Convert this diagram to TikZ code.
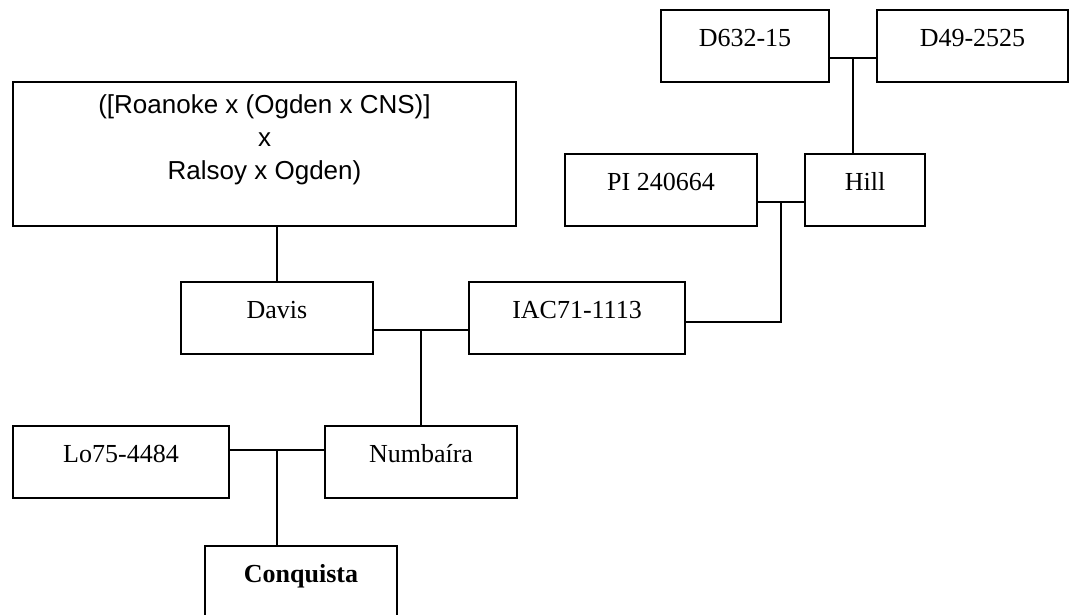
\documentclass[tikz,border=0pt]{standalone}
\usepackage{fontspec}
\setmainfont{Liberation Serif}
\newfontfamily\arialfont{Liberation Sans}
\begin{document}
\begin{tikzpicture}[x=1pt,y=-1pt,line width=1.8pt,
  famnode/.style={draw=black, rectangle, inner xsep=0pt, inner ysep=0pt, outer sep=0pt,
    minimum height=72pt, text height=36.5pt, text depth=35.5pt, anchor=north west,
    font=\fontsize{26}{30}\selectfont},
  bigbox/.style={draw=black, rectangle, inner sep=0pt, outer sep=0pt, anchor=north west},
  bigtext/.style={anchor=north, inner sep=0pt, align=center, font=\arialfont\fontsize{26}{33}\selectfont},
  link/.style={draw=black, line width=1.8pt}]
\clip (0,0) rectangle (1071,615);
\fill[white] (0,0) rectangle (1071,615);

\node[famnode, minimum width=168pt] (d632) at (661,10) {D632-15};
\node[famnode, minimum width=191pt] (d49) at (877,10) {D49-2525};
\node[bigbox, minimum width=503pt, minimum height=144pt] (big) at (13,82) {};
\node[bigtext] (bigtxt) at (264.5,94) {([Roanoke x (Ogden x CNS)]\\x\\Ralsoy x Ogden)};
\node[famnode, minimum width=192pt] (pi) at (565,154) {PI 240664};
\node[famnode, minimum width=120pt] (hill) at (805,154) {Hill};
\node[famnode, minimum width=192pt] (davis) at (181,282) {Davis};
\node[famnode, minimum width=216pt] (iac) at (469,282) {IAC71-1113};
\node[famnode, minimum width=216pt] (lo) at (13,426) {Lo75-4484};
\node[famnode, minimum width=192pt] (numb) at (325,426) {Numbaíra};
\node[famnode, minimum width=192pt, font=\bfseries\fontsize{26}{30}\selectfont] (conq) at (205,546) {Conquista};

\coordinate (j1) at (853,58);
\coordinate (j2) at (781,202);
\coordinate (j2b) at (781,322);
\coordinate (j3) at (421,330);
\coordinate (j4) at (277,450);

\draw[link] (d632.east |- j1) -- (d49.west |- j1);
\draw[link] (j1) -- (hill.north -| j1);
\draw[link] (pi.east |- j2) -- (hill.west |- j2);
\draw[link] (j2) -- (j2b) -- (iac.east |- j2b);
\draw[link] (big.south -| davis.north) -- (davis.north);
\draw[link] (davis.east |- j3) -- (iac.west |- j3);
\draw[link] (j3) -- (numb.north -| j3);
\draw[link] (lo.east |- j4) -- (numb.west |- j4);
\draw[link] (j4) -- (conq.north -| j4);
\end{tikzpicture}
\end{document}
